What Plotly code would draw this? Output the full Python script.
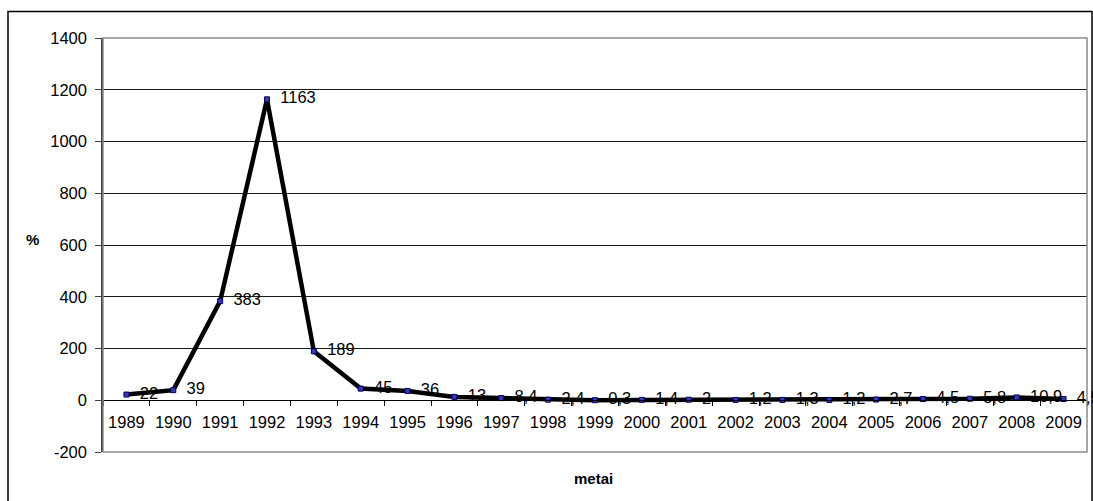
import plotly.graph_objects as go

years = ["1989", "1990", "1991", "1992", "1993", "1994", "1995", "1996", "1997", "1998", "1999",
         "2000", "2001", "2002", "2003", "2004", "2005", "2006", "2007", "2008", "2009"]
values = [22, 39, 383, 1163, 189, 45, 36, 13, 8.4, 2.4, 0.3,
          1.4, 2, 1.2, 1.3, 1.2, 2.7, 4.5, 5.8, 10.9, 4.5]
y_ticks = [-200, 0, 200, 400, 600, 800, 1000, 1200, 1400]
x_title = "metai"
y_title = "%"

labels = ["  " + ("{:g}".format(v)).replace(".", ",") for v in values]

W, H = 1093, 501
L, R, T, B = 103, 6, 38, 49
pw, ph = W - L - R, H - T - B

FONT = "Liberation Sans, Arial, sans-serif"
FS = 16.5

fig = go.Figure()
fig.add_trace(go.Scatter(
    x=years, y=values, mode="lines+markers+text",
    text=labels, textposition="middle right",
    textfont=dict(family=FONT, size=FS, color="#000000"),
    line=dict(color="#000000", width=4.5),
    marker=dict(symbol="square", size=5, color="#3a3aa8", line=dict(color="#000070", width=1)),
    cliponaxis=False, showlegend=False,
))

ymin, ymax = y_ticks[0], y_ticks[-1]
zero_frac = (0 - ymin) / (ymax - ymin)

fig.update_layout(
    width=W, height=H,
    margin=dict(l=L, r=R, t=T, b=B, autoexpand=False),
    paper_bgcolor="#ffffff", plot_bgcolor="#ffffff",
    font=dict(family=FONT, size=FS, color="#000000"),
    xaxis=dict(
        type="category", range=[-0.5, len(years) - 0.5],
        anchor="free", position=zero_frac,
        showline=True, linecolor="#000000", linewidth=1,
        ticks="outside", ticklen=5, tickcolor="#000000", tickson="boundaries",
        showgrid=False, zeroline=False,
        tickfont=dict(family=FONT, size=FS, color="#000000"),
        ticklabelstandoff=7,
    ),
    yaxis=dict(
        range=[ymin, ymax], tickvals=y_ticks, ticktext=[str(v) for v in y_ticks],
        showline=True, linecolor="#404040", linewidth=1.5,
        ticks="outside", ticklen=6, tickcolor="#404040",
        showgrid=True, gridcolor="#1a1a1a", gridwidth=1,
        zeroline=False,
        tickfont=dict(family=FONT, size=FS, color="#000000"),
        ticklabelstandoff=5,
    ),
    shapes=[
        # plot area border
        dict(type="rect", xref="paper", yref="paper", x0=0, x1=1, y0=0, y1=1,
             line=dict(color="#8a8a8a", width=1.5), layer="above"),
        # outer chart border
        dict(type="rect", xref="paper", yref="paper",
             x0=(8 - L) / pw, x1=(1092 - L) / pw,
             y0=(H - T - 560) / ph, y1=(ph + T - 11.5) / ph,
             line=dict(color="#000000", width=1.5), layer="above"),
    ],
    annotations=[
        dict(text="<b>" + x_title + "</b>", xref="paper", yref="paper",
             x=(593 - L) / pw, y=-(478 - (T + ph)) / ph, showarrow=False,
             font=dict(family=FONT, size=15, color="#000000"), xanchor="center", yanchor="middle"),
        dict(text="<b>" + y_title + "</b>", xref="paper", yref="paper",
             x=(32 - L) / pw, y=(T + ph - 240) / ph, showarrow=False,
             font=dict(family=FONT, size=15, color="#000000"), xanchor="center", yanchor="middle"),
    ],
)

fig.write_html("out.html")
